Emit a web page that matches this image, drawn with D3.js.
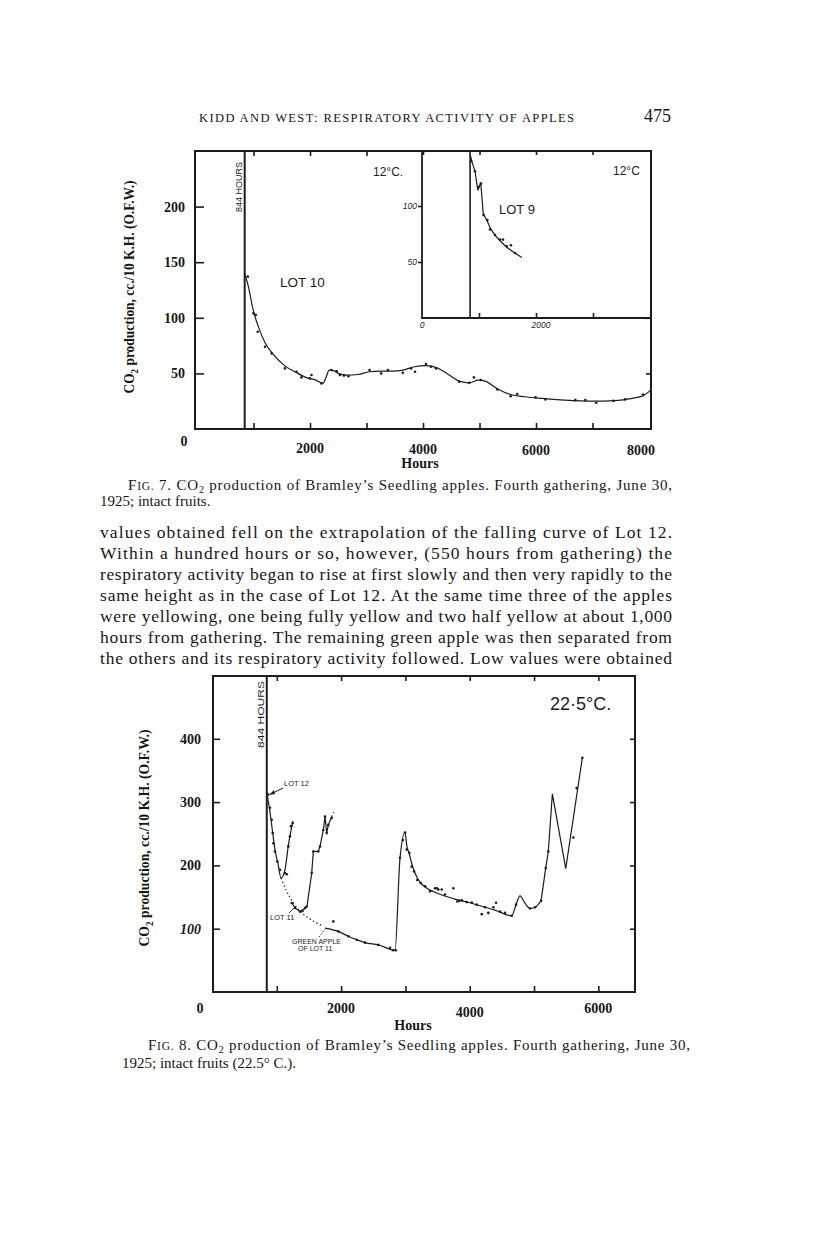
<!DOCTYPE html>
<html>
<head>
<meta charset="utf-8">
<script src="https://cdn.jsdelivr.net/npm/d3@7"></script>
<style>
  body { margin: 0; background: #fff; }
  svg { display: block; }
  .serif { font-family: "Liberation Serif", "DejaVu Serif", serif; fill: #161616; }
  .sans { font-family: "Liberation Sans", "DejaVu Sans", sans-serif; fill: #1c1c1c; }
  .tick line { stroke: #1c1c1c; stroke-width: 1.6; }
</style>
</head>
<body>
<script>
// ---- Fig. 7 data (12 deg C) ----
const lot10Line = [[844,140],[900,130],[1000,106],[1100,90],[1200,78],[1350,67],[1550,57],[1750,51],[1950,46],[2100,44],[2230,41],[2280,46],[2340,53],[2420,52.5],[2500,50],[2650,48.5],[2850,49],[3050,51.5],[3250,52],[3450,52],[3650,53],[3850,56],[4050,57],[4250,55],[4450,49],[4640,43],[4820,41.5],[4980,44],[5100,43],[5320,36],[5550,31],[5800,29],[6100,27.5],[6500,26],[7000,25],[7400,25.5],[7700,27.5],[7900,30],[8030,35]];
const lot10Pts = [[899,137],[999,104],[1040,102.5],[1075,87.5],[1204,74],[1322,68],[1556,54.5],[1762,51.5],[1850,46.4],[1997,45.5],[2026,48.5],[2203,41],[2380,53],[2470,52],[2530,48.5],[2600,48],[2680,47.5],[3054,53],[3260,50],[3378,53],[3642,50.5],[3789,54.5],[3859,51.5],[4053,58.4],[4141,56],[4229,54.5],[4640,42.5],[4820,41.5],[4900,46.4],[5022,44],[5316,35.6],[5551,29.5],[5668,31.4],[5991,28.4],[6167,26.6],[6696,26],[6872,26],[7066,23.5],[7370,25.3],[7577,26.6],[7894,31]];
const lot9Line = [[844,146],[880,139],[930,131],[980,114],[1030,121],[1075,93],[1150,86],[1200,80],[1280,74],[1370,69],[1490,63],[1630,58],[1750,54]];
const lot9Pts = [[860,140],[930,131],[990,117],[1035,120],[1080,92],[1146,87.5],[1193,79],[1281,74],[1368,70],[1420,70],[1486,64],[1560,65],[1632,58]];

// ---- Fig. 8 data (22.5 deg C) ----
const lot12Line = [[844,316],[870,300],[900,280],[940,248],[980,220],[1020,202],[1065,180],[1125,192],[1180,232],[1250,270]];
const lot12Pts = [[868,312],[894,291],[921,272],[936,251],[946,235],[972,222],[1008,206],[1050,193],[1127,188],[1154,186],[1179,230],[1205,246],[1221,262],[1247,267]];
const lot11Dotted = [[1065,180],[1150,160],[1257,141],[1350,129],[1465,119],[1600,110],[1723,104]];
const lot11Line = [[1232,141],[1283,133],[1361,127],[1439,132],[1470,136],[1543,188],[1568,222],[1645,222],[1672,230],[1723,256],[1750,277],[1776,251],[1801,264],[1854,277]];
const lot11Tail = [[1854,277],[1885,284]];
const lot11Pts = [[1232,140.6],[1283,132.7],[1361,127],[1400,128],[1439,132.7],[1465,135],[1543,188],[1568,222],[1645,222],[1672,230],[1723,256],[1750,277],[1776,251],[1801,264],[1854,275]];
const greenLine = [[1750,101],[1956,95.7],[2112,88],[2243,82.6],[2372,78],[2579,74.5],[2838,66],[2916,212],[2994,252],[3020,232],[3061,218],[3098,203],[3134,192],[3185,180],[3240,172],[3305,166],[3450,158],[3600,152],[3800,146],[4000,141],[4200,135],[4400,129],[4653,120.5],[4720,138],[4782,152],[4860,140],[4938,132],[5016,134],[5109,144],[5182,196],[5222,222],[5285,313],[5493,195],[5751,370]];
const greenPts = [[1879,111.5],[1956,95.7],[2112,88],[2243,82.6],[2372,78],[2579,74.5],[2760,70],[2810,66],[2850,66],[2916,212],[2960,240],[2994,252],[3020,225],[3061,220],[3098,198],[3134,190.5],[3185,177],[3238,172],[3305,167],[3383,159],[3460,164],[3490,164],[3512,162],[3565,162],[3616,154],[3745,164],[3807,143],[3840,144],[3876,145],[3953,142],[4031,141.5],[4109,138],[4187,123],[4238,134],[4289,125],[4367,134],[4409,141],[4471,127],[4549,125],[4653,120.5],[4720,138],[4938,132],[5016,134],[5109,144],[5182,196],[5222,222],[5611,244],[5664,322],[5751,370]];
const greenJaggedFrom = 5109;   // from here the curve is drawn with straight segments

// ---- tick values / labels ----
const fig7XLabels = [2000, 4000, 6000, 8000];
const fig7YLabels = [50, 100, 150, 200];
const fig7Ticks = [1000, 2000, 3000, 4000, 5000, 6000, 7000];
const insetYLabels = [50, 100];
const insetTicks = [1000, 2000, 3000];
const fig8XLabels = [2000, 4000, 6000];
const fig8YLabels = [100, 200, 300, 400];
const fig8Ticks = [1000, 2000, 3000, 4000, 5000, 6000];
const lagHours = 844;

const bodyLines = [
  "values obtained fell on the extrapolation of the falling curve of Lot 12.",
  "Within a hundred hours or so, however, (550 hours from gathering) the",
  "respiratory activity began to rise at first slowly and then very rapidly to the",
  "same height as in the case of Lot 12.  At the same time three of the apples",
  "were yellowing, one being fully yellow and two half yellow at about 1,000",
  "hours from gathering.  The remaining green apple was then separated from",
  "the others and its respiratory activity followed.  Low values were obtained"
];

const ink = "#1c1c1c";
const svg = d3.select("body").append("svg").attr("width", 816).attr("height", 1239);
svg.append("rect").attr("width", 816).attr("height", 1239).attr("fill", "#fff");

// running head
svg.append("text").attr("class", "serif").attr("x", 199).attr("y", 122)
  .attr("font-size", 12.5).attr("textLength", 375).attr("lengthAdjust", "spacing")
  .text("KIDD AND WEST: RESPIRATORY ACTIVITY OF APPLES");
svg.append("text").attr("class", "serif").attr("x", 644).attr("y", 122)
  .attr("font-size", 18).text("475");

// helpers
function addTicks(g, axis, tr) {
  const a = g.append("g").attr("transform", tr).call(axis);
  a.select(".domain").remove();
  a.selectAll("text").remove();
  return a;
}
function drawLine(g, data, x, y, opts = {}) {
  g.append("path").datum(data)
    .attr("fill", "none").attr("stroke", ink)
    .attr("stroke-width", opts.w || 1.2)
    .attr("stroke-dasharray", opts.dash || null)
    .attr("d", d3.line().x(d => x(d[0])).y(d => y(d[1])).curve(opts.curve || d3.curveMonotoneX));
}
function drawDots(g, data, x, y) {
  g.selectAll(null).data(data).enter().append("circle")
    .attr("cx", d => x(d[0])).attr("cy", d => y(d[1])).attr("r", 1.3).attr("fill", ink);
}
function yTitle(cx, cy, len) {
  const t = svg.append("text").attr("class", "serif").attr("font-weight", "bold")
    .attr("font-size", 15).attr("text-anchor", "middle")
    .attr("transform", `translate(${cx},${cy}) rotate(-90)`)
    .attr("textLength", len).attr("lengthAdjust", "spacingAndGlyphs");
  t.append("tspan").text("CO");
  t.append("tspan").attr("font-size", 10).attr("dy", 4).text("2");
  t.append("tspan").attr("dy", -4).text(" production, cc./10 K.H. (O.F.W.)");
}
function caption(x, y, len, num, rest) {
  const t = svg.append("text").attr("class", "serif").attr("x", x).attr("y", y)
    .attr("font-size", 15).attr("textLength", len).attr("lengthAdjust", "spacing");
  t.append("tspan").text("F");
  t.append("tspan").attr("font-size", 11.5).text("IG.");
  t.append("tspan").text(` ${num}.  CO`);
  t.append("tspan").attr("font-size", 10).attr("dy", 3).text("2");
  t.append("tspan").attr("dy", -3).text(rest);
}

// ================= Fig. 7 =================
const f7 = { left: 195, right: 651, top: 151, bottom: 429 };
const x7 = d3.scaleLinear().domain([0, 8035]).range([197, 651]);
const y7 = d3.scaleLinear().domain([0, 250]).range([429, 151]);
const g7 = svg.append("g");

addTicks(g7, d3.axisBottom(x7).tickValues(fig7Ticks).tickSizeInner(-6).tickSizeOuter(0), `translate(0,${f7.bottom})`);
addTicks(g7, d3.axisTop(x7).tickValues(fig7Ticks).tickSizeInner(-5).tickSizeOuter(0), `translate(0,${f7.top})`);
addTicks(g7, d3.axisLeft(y7).tickValues(fig7YLabels).tickSizeInner(-9).tickSizeOuter(0), `translate(${f7.left},0)`);
addTicks(g7, d3.axisRight(y7).tickValues(fig7YLabels).tickSizeInner(-5).tickSizeOuter(0), `translate(${f7.right},0)`);

g7.append("rect").attr("x", f7.left).attr("y", f7.top)
  .attr("width", f7.right - f7.left).attr("height", f7.bottom - f7.top)
  .attr("fill", "none").attr("stroke", ink).attr("stroke-width", 2);
g7.append("line").attr("x1", x7(lagHours)).attr("x2", x7(lagHours))
  .attr("y1", f7.top).attr("y2", f7.bottom).attr("stroke", ink).attr("stroke-width", 2);

g7.selectAll(null).data(fig7YLabels).enter().append("text").attr("class", "serif")
  .attr("x", 185).attr("y", d => y7(d) + 5).attr("text-anchor", "end")
  .attr("font-size", 14).attr("font-weight", "bold").text(d => d);
g7.selectAll(null).data(fig7XLabels).enter().append("text").attr("class", "serif")
  .attr("x", d => x7(d) - (d === 8000 ? 8 : 0)).attr("y", (d, i) => 453 + i * 0.8).attr("text-anchor", "middle")
  .attr("font-size", 14).attr("font-weight", "bold").text(d => d);
g7.append("text").attr("class", "serif").attr("x", x7(0) - 13).attr("y", 446)
  .attr("text-anchor", "middle").attr("font-size", 14).attr("font-weight", "bold").text("0");
g7.append("text").attr("class", "serif").attr("x", 420).attr("y", 468)
  .attr("text-anchor", "middle").attr("font-size", 14).attr("font-weight", "bold").text("Hours");
yTitle(134, 287, 213);

drawLine(g7, lot10Line, x7, y7);
drawDots(g7, lot10Pts, x7, y7);

g7.append("text").attr("class", "sans").attr("font-size", 9)
  .attr("transform", `translate(${x7(lagHours) - 2.5},212) rotate(-90)`).text("844 HOURS");
g7.append("text").attr("class", "sans").attr("x", 373).attr("y", 176).attr("font-size", 12).text("12°C.");
g7.append("text").attr("class", "sans").attr("x", 280).attr("y", 287).attr("font-size", 13.5).text("LOT 10");

// inset (Lot 9)
const xi = d3.scaleLinear().domain([0, 4000]).range([422, 650]);
const yi = d3.scaleLinear().domain([0, 150]).range([318, 150]);
const gi = svg.append("g");
gi.append("rect").attr("x", 422).attr("y", 155).attr("width", 228).attr("height", 162).attr("fill", "#fff");
addTicks(gi, d3.axisBottom(xi).tickValues(insetTicks).tickSizeInner(-5).tickSizeOuter(0), "translate(0,318)");
addTicks(gi, d3.axisLeft(yi).tickValues(insetYLabels).tickSizeInner(4).tickSizeOuter(0), "translate(422,0)");
gi.append("path").attr("d", `M422,${f7.top} L422,318 L651,318`)
  .attr("fill", "none").attr("stroke", ink).attr("stroke-width", 1.8);
gi.append("line").attr("x1", xi(lagHours)).attr("x2", xi(lagHours))
  .attr("y1", f7.top).attr("y2", 318).attr("stroke", ink).attr("stroke-width", 1.6);
gi.selectAll(null).data(insetYLabels).enter().append("text").attr("class", "sans")
  .attr("x", 417).attr("y", d => yi(d) + 3).attr("text-anchor", "end")
  .attr("font-size", 8.5).attr("font-style", "italic").text(d => d);
gi.append("text").attr("class", "sans").attr("x", xi(0)).attr("y", 328).attr("text-anchor", "middle")
  .attr("font-size", 8.5).attr("font-style", "italic").text("0");
gi.append("text").attr("class", "sans").attr("x", xi(2000) + 5).attr("y", 328).attr("text-anchor", "middle")
  .attr("font-size", 8.5).attr("font-style", "italic").text("2000");
drawLine(gi, lot9Line, xi, yi, { curve: d3.curveLinear });
drawDots(gi, lot9Pts, xi, yi);
gi.append("text").attr("class", "sans").attr("x", 499).attr("y", 214).attr("font-size", 13).text("LOT 9");
gi.append("text").attr("class", "sans").attr("x", 613).attr("y", 175).attr("font-size", 12).text("12°C");

caption(128, 490, 544, 7, " production of Bramley\u2019s Seedling apples.  Fourth gathering, June 30,");
svg.append("text").attr("class", "serif").attr("x", 100).attr("y", 506).attr("font-size", 15)
  .text("1925; intact fruits.");

// body text
svg.selectAll(null).data(bodyLines).enter().append("text").attr("class", "serif")
  .attr("x", 100).attr("y", (d, i) => 538 + i * 21)
  .attr("font-size", 17.5).attr("textLength", 572).attr("lengthAdjust", "spacing")
  .text(d => d);

// ================= Fig. 8 =================
const f8 = { left: 213, right: 635, top: 676, bottom: 992 };
const x8 = d3.scaleLinear().domain([0, 6570]).range([212.5, 635]);
const y8 = d3.scaleLinear().domain([0, 500]).range([992, 675.5]);
const g8 = svg.append("g");

addTicks(g8, d3.axisBottom(x8).tickValues(fig8Ticks).tickSizeInner(-6).tickSizeOuter(0), `translate(0,${f8.bottom})`);
addTicks(g8, d3.axisTop(x8).tickValues(fig8Ticks).tickSizeInner(-5).tickSizeOuter(0), `translate(0,${f8.top})`);
addTicks(g8, d3.axisLeft(y8).tickValues(fig8YLabels).tickSizeInner(-7).tickSizeOuter(0), `translate(${f8.left},0)`);
addTicks(g8, d3.axisRight(y8).tickValues(fig8YLabels).tickSizeInner(-5).tickSizeOuter(0), `translate(${f8.right},0)`);

g8.append("rect").attr("x", f8.left).attr("y", f8.top)
  .attr("width", f8.right - f8.left).attr("height", f8.bottom - f8.top)
  .attr("fill", "none").attr("stroke", ink).attr("stroke-width", 2);
g8.append("line").attr("x1", x8(lagHours)).attr("x2", x8(lagHours))
  .attr("y1", f8.top).attr("y2", f8.bottom).attr("stroke", ink).attr("stroke-width", 2);

g8.selectAll(null).data(fig8YLabels).enter().append("text").attr("class", "serif")
  .attr("x", 201).attr("y", d => y8(d) + 5).attr("text-anchor", "end")
  .attr("font-size", 14).attr("font-weight", "bold")
  .attr("font-style", d => d === 100 ? "italic" : null).text(d => d);
g8.selectAll(null).data(fig8XLabels).enter().append("text").attr("class", "serif")
  .attr("x", d => x8(d)).attr("y", d => d === 4000 ? 1017 : 1013).attr("text-anchor", "middle")
  .attr("font-size", 14).attr("font-weight", "bold").text(d => d);
g8.append("text").attr("class", "serif").attr("x", 200).attr("y", 1013)
  .attr("text-anchor", "middle").attr("font-size", 14).attr("font-weight", "bold").text("0");
g8.append("text").attr("class", "serif").attr("x", 413).attr("y", 1030)
  .attr("text-anchor", "middle").attr("font-size", 14).attr("font-weight", "bold").text("Hours");
yTitle(149, 838, 217);

drawLine(g8, lot12Line, x8, y8);
drawDots(g8, lot12Pts, x8, y8);
drawLine(g8, lot11Dotted, x8, y8, { w: 1.3, dash: "1.3,2.6" });
drawLine(g8, lot11Line, x8, y8, { curve: d3.curveLinear });
drawLine(g8, lot11Tail, x8, y8, { dash: "1.3,2.6", curve: d3.curveLinear });
drawDots(g8, lot11Pts, x8, y8);
drawLine(g8, greenLine.filter(d => d[0] <= greenJaggedFrom), x8, y8);
drawLine(g8, greenLine.filter(d => d[0] >= greenJaggedFrom), x8, y8, { curve: d3.curveLinear });
drawDots(g8, greenPts, x8, y8);

g8.append("text").attr("class", "sans").attr("font-size", 9.5)
  .attr("transform", `translate(${x8(lagHours) - 2.5},748) rotate(-90)`)
  .attr("textLength", 67).attr("lengthAdjust", "spacingAndGlyphs").text("844 HOURS");
g8.append("text").attr("class", "sans").attr("x", 550).attr("y", 710).attr("font-size", 18).text("22·5°C.");

// annotations
const ann = g8.append("g").attr("class", "sans").attr("font-size", 7.5);
ann.append("text").attr("x", 284).attr("y", 786).text("LOT 12");
ann.append("line").attr("x1", 283).attr("y1", 788).attr("x2", 271).attr("y2", 794)
  .attr("stroke", ink).attr("stroke-width", 1);
ann.append("path").attr("d", "M269,795 L274,790 L275,794 Z").attr("fill", ink);
ann.append("text").attr("x", 270).attr("y", 920).text("LOT 11");
ann.append("line").attr("x1", 289).attr("y1", 913).attr("x2", 296).attr("y2", 906)
  .attr("stroke", ink).attr("stroke-width", 0.9);
ann.append("text").attr("x", 292).attr("y", 944).attr("font-size", 7).text("GREEN APPLE");
ann.append("text").attr("x", 298).attr("y", 951).attr("font-size", 7).text("OF LOT 11");
ann.append("line").attr("x1", 319).attr("y1", 937).attr("x2", 325).attr("y2", 929)
  .attr("stroke", ink).attr("stroke-width", 0.9).attr("stroke-dasharray", "1.5,1.5");

caption(148, 1050, 542, 8, " production of Bramley\u2019s Seedling apples.  Fourth gathering, June 30,");
svg.append("text").attr("class", "serif").attr("x", 122).attr("y", 1068).attr("font-size", 15)
  .text("1925; intact fruits (22.5° C.).");
</script>
</body>
</html>
